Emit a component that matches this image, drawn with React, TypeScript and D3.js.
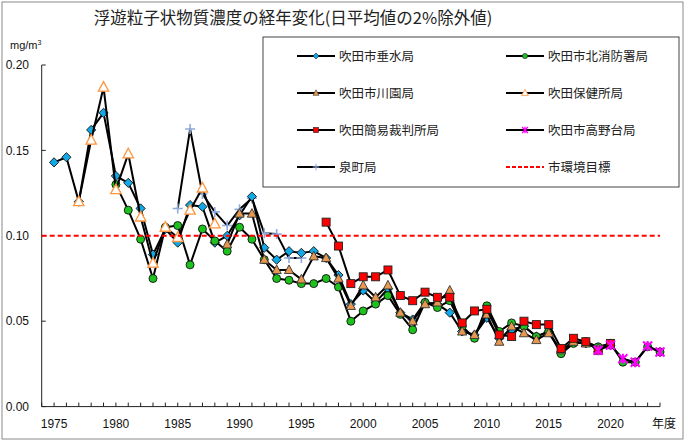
import React from "react";
import * as d3 from "d3";

// 年度の範囲 (目盛りは1974〜2024)
const yearFirst = 1974;
const yearLast = 2024;
const yearLabels = [1975, 1980, 1985, 1990, 1995, 2000, 2005, 2010, 2015, 2020];
const yTicks = [0, 0.05, 0.1, 0.15, 0.2];

// 各測定局 (開始年度 + 年度ごとの値 mg/m3)
const tarumiStart = 1975;
const tarumi = [
  0.143, 0.146, 0.12, 0.162, 0.172, 0.135, 0.131, 0.116, 0.089, 0.104,
  0.096, 0.118, 0.117, 0.096, 0.1, 0.112, 0.123, 0.093, 0.086, 0.091,
  0.09, 0.091, 0.087, 0.077, 0.06, 0.068, 0.061, 0.069, 0.055, 0.051,
  0.061, 0.06, 0.055, 0.044, 0.042, 0.052, 0.04, 0.045, 0.047, 0.041,
  0.044, 0.032, 0.038, 0.037, 0.034, 0.036,
];

const kitaStart = 1980;
const kita = [
  0.13, 0.115, 0.098, 0.075, 0.105, 0.106, 0.083, 0.104, 0.097, 0.091,
  0.105, 0.098, 0.086, 0.075, 0.074, 0.072, 0.072, 0.075, 0.07, 0.05,
  0.056, 0.06, 0.065, 0.054, 0.045, 0.061, 0.058, 0.062, 0.047, 0.04,
  0.059, 0.044, 0.049, 0.047, 0.041, 0.044, 0.031, 0.037, 0.038, 0.035,
  0.037, 0.026, 0.026, 0.035, 0.032,
];

const kawazonoStart = 1989;
const kawazono = [
  0.095, 0.113, 0.113, 0.086, 0.08, 0.08, 0.0745, 0.088, 0.087, 0.075,
  0.059, 0.071, 0.064, 0.071, 0.055, 0.05, 0.06, 0.061, 0.068, 0.044,
  0.042, 0.054, 0.038, 0.047, 0.043, 0.039, 0.043, 0.033, 0.038, 0.037,
  0.034, 0.036,
];

const hokenStart = 1977;
const hoken = [
  0.12, 0.156, 0.187, 0.127, 0.148, 0.111, 0.084, 0.105, 0.099, 0.115,
  0.128, 0.107,
];

const saibanStart = 1997;
const saiban = [
  0.108, 0.094, 0.072, 0.076, 0.076, 0.08, 0.065, 0.062, 0.067, 0.064,
  0.064, 0.049, 0.056, 0.057, 0.042, 0.041, 0.05, 0.048, 0.048, 0.034,
  0.04, 0.038, 0.033, 0.037,
];

const takanoStart = 2019;
const takano = [0.033, 0.036, 0.028, 0.026, 0.0355, 0.032];

const izumiStart = 1985;
const izumi = [
  0.116, 0.1625, 0.1245, 0.114, 0.106, 0.1155, 0.122, 0.1015, 0.101, 0.087,
  0.087,
];

const target = 0.1;

const seriesNames = [
  "吹田市垂水局",
  "吹田市北消防署局",
  "吹田市川園局",
  "吹田保健所局",
  "吹田簡易裁判所局",
  "吹田市高野台局",
  "泉町局",
  "市環境目標",
];

const W = 690;
const H = 445;
const x = d3.scaleLinear().domain([yearFirst, yearLast]).range([41.7, 660]);
const y = d3.scaleLinear().domain([0, 0.2]).range([406.6, 65]);

const jp = "'Noto Sans CJK JP', 'Noto Sans', sans-serif";
const num = "'Liberation Sans', Arial, sans-serif";

type Kind = "diamond" | "circle" | "tri" | "hollow" | "square" | "star" | "plus";

const Marker = ({ kind, cx, cy, s = 1 }: { kind: Kind; cx: number; cy: number; s?: number }) => {
  const t = `translate(${cx},${cy}) scale(${s})`;
  switch (kind) {
    case "diamond":
      return <path transform={t} d="M0,-4.6L4.6,0L0,4.6L-4.6,0Z" fill="#12a8e6" stroke="#111" strokeWidth={0.9} />;
    case "circle":
      return <circle transform={t} r={4} fill="#1ec21e" stroke="#111" strokeWidth={0.9} />;
    case "tri":
      return <path transform={t} d="M0,-5L4.6,3.6L-4.6,3.6Z" fill="#e8984e" stroke="#333" strokeWidth={0.9} />;
    case "hollow":
      return <path transform={t} d="M0,-5.6L5.2,4L-5.2,4Z" fill="#fff" stroke="#ff9640" strokeWidth={1.3} />;
    case "square":
      return <rect transform={t} x={-4} y={-4} width={8} height={8} fill="#ff0000" stroke="#222" strokeWidth={0.9} />;
    case "star":
      return (
        <path transform={t} d="M-4.5,-4.5L4.5,4.5M-4.5,4.5L4.5,-4.5M0,-5L0,5" stroke="#ff00ff" strokeWidth={2} fill="none" />
      );
    case "plus":
      return <path transform={t} d="M-5,0L5,0M0,-5L0,5" stroke="#8faadc" strokeWidth={1.6} fill="none" />;
  }
  return null;
};

const series: { name: string; start: number; values: number[]; kind: Kind }[] = [
  { name: seriesNames[6], start: izumiStart, values: izumi, kind: "plus" },
  { name: seriesNames[0], start: tarumiStart, values: tarumi, kind: "diamond" },
  { name: seriesNames[1], start: kitaStart, values: kita, kind: "circle" },
  { name: seriesNames[2], start: kawazonoStart, values: kawazono, kind: "tri" },
  { name: seriesNames[3], start: hokenStart, values: hoken, kind: "hollow" },
  { name: seriesNames[4], start: saibanStart, values: saiban, kind: "square" },
  { name: seriesNames[5], start: takanoStart, values: takano, kind: "star" },
];

const legendItems: { name: string; kind: Kind | "dash" }[] = [
  { name: seriesNames[0], kind: "diamond" },
  { name: seriesNames[1], kind: "circle" },
  { name: seriesNames[2], kind: "tri" },
  { name: seriesNames[3], kind: "hollow" },
  { name: seriesNames[4], kind: "square" },
  { name: seriesNames[5], kind: "star" },
  { name: seriesNames[6], kind: "plus" },
  { name: seriesNames[7], kind: "dash" },
];

const line = d3
  .line<[number, number]>()
  .x((d) => x(d[0]))
  .y((d) => y(d[1]));

export default function App() {
  const tickYears = d3.range(yearFirst, yearLast + 1);
  return (
    <svg width={W} height={H} style={{ position: "absolute", left: 0, top: 0, background: "#fff" }}>
      <rect x={2} y={2} width={681} height={437} fill="#fff" stroke="#8a8a8a" strokeWidth={1} />

      <text x={293} y={24} textAnchor="middle" fontFamily={jp} fontSize={16.5} fill="#222">
        浮遊粒子状物質濃度の経年変化(日平均値の2%除外値)
      </text>
      <text x={10} y={49} fontFamily={num} fontSize={11} fill="#111">
        mg/m<tspan dy={-4} fontSize={7}>3</tspan>
      </text>

      {/* y軸 */}
      <line x1={x(yearFirst)} x2={x(yearFirst)} y1={y(0.2)} y2={y(0)} stroke="#222" />
      {yTicks.map((t) => (
        <g key={t}>
          <line x1={x(yearFirst)} x2={x(yearFirst) + 4} y1={y(t)} y2={y(t)} stroke="#222" />
          <text x={29} y={y(t)} dy="0.35em" textAnchor="end" fontFamily={num} fontSize={12} fill="#111">
            {t.toFixed(2)}
          </text>
        </g>
      ))}

      {/* x軸 */}
      <line x1={x(yearFirst)} x2={x(yearLast)} y1={y(0)} y2={y(0)} stroke="#222" />
      {tickYears.map((yr) => (
        <line key={yr} x1={x(yr)} x2={x(yr)} y1={y(0)} y2={y(0) - 4} stroke="#222" />
      ))}
      {yearLabels.map((yr) => (
        <text key={yr} x={x(yr)} y={428} textAnchor="middle" fontFamily={num} fontSize={12} fill="#111">
          {yr}
        </text>
      ))}
      <text x={664} y={428} textAnchor="middle" fontFamily={jp} fontSize={12} fill="#111">
        年度
      </text>

      {/* 系列 */}
      {series.map((s) => {
        const pts = s.values.map((v, i) => [s.start + i, v] as [number, number]);
        return (
          <g key={s.name}>
            <path d={line(pts) || ""} fill="none" stroke="#000" strokeWidth={2} strokeLinejoin="round" />
            {pts.map((p) => (
              <Marker key={p[0]} kind={s.kind} cx={x(p[0])} cy={y(p[1])} />
            ))}
          </g>
        );
      })}

      <line x1={x(yearFirst)} x2={x(yearLast)} y1={y(target)} y2={y(target)} stroke="#ff0000" strokeWidth={2} strokeDasharray="5,3" />

      {/* 凡例 */}
      <rect x={263} y={37} width={416} height={150} fill="#fff" stroke="#444" strokeWidth={1} />
      {legendItems.map((it, i) => {
        const col = i % 2;
        const row = Math.floor(i / 2);
        const lx = col === 0 ? 297 : 506;
        const ly = 56 + row * 37;
        return (
          <g key={it.name}>
            {it.kind === "dash" ? (
              <line x1={lx} x2={lx + 38} y1={ly} y2={ly} stroke="#ff0000" strokeWidth={2} strokeDasharray="4,2" />
            ) : (
              <>
                <line x1={lx} x2={lx + 38} y1={ly} y2={ly} stroke="#000" strokeWidth={2} />
                <Marker kind={it.kind} cx={lx + 19} cy={ly} s={0.65} />
              </>
            )}
            <text x={lx + 42} y={ly} dy="0.36em" fontFamily={jp} fontSize={12.5} fill="#222">
              {it.name}
            </text>
          </g>
        );
      })}
    </svg>
  );
}
